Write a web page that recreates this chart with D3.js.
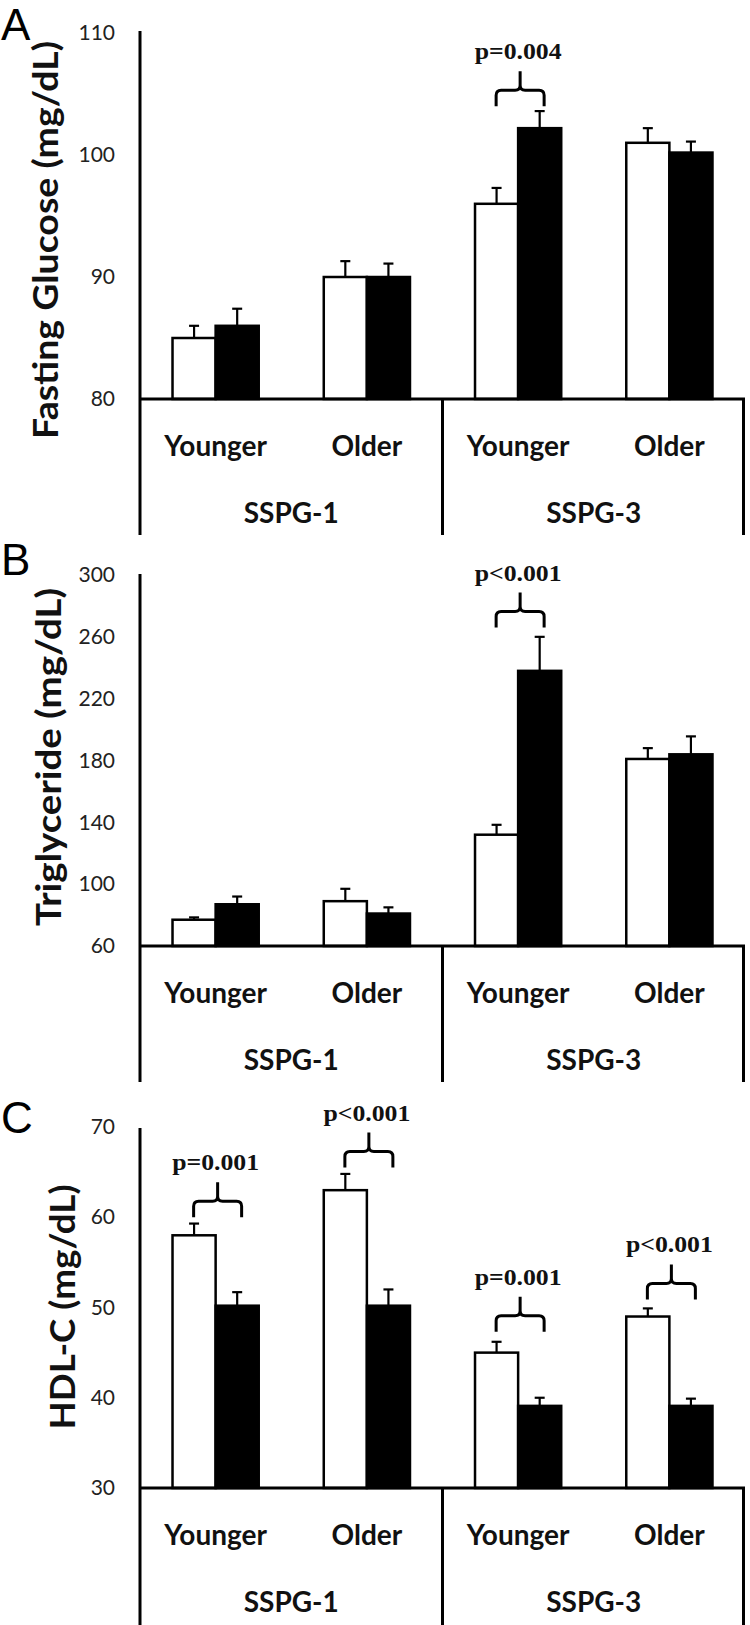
<!DOCTYPE html>
<html><head><meta charset="utf-8">
<script src="https://cdn.jsdelivr.net/npm/d3@7"></script>
<style>body{margin:0;background:#fff} svg{display:block}</style>
</head><body>
<script>
// ---------- data ----------
const groups = ["SSPG-1 Younger", "SSPG-1 Older", "SSPG-3 Younger", "SSPG-3 Older"];
const ageLabels = ["Younger", "Older", "Younger", "Older"];
const sspgLabels = ["SSPG-1", "SSPG-3"];
const seriesNames = ["open", "filled"];

const glucoseTicks = [80, 90, 100, 110];
const glucoseOpen = [85, 90, 96, 101];
const glucoseOpenErr = [1.0, 1.3, 1.3, 1.2];
const glucoseFilled = [86, 90, 102.2, 100.2];
const glucoseFilledErr = [1.4, 1.1, 1.4, 0.9];
const glucoseP = [{group: 2, at: 104.0, label: "p=0.004"}];

const tgTicks = [60, 100, 140, 180, 220, 260, 300];
const tgOpen = [77, 89, 132, 181];
const tgOpenErr = [1.5, 8, 6.4, 7];
const tgFilled = [87, 81, 238, 184];
const tgFilledErr = [5, 4, 22, 11.6];
const tgP = [{group: 2, at: 266, label: "p<0.001"}];

const hdlTicks = [30, 40, 50, 60, 70];
const hdlOpen = [58, 63, 45, 49];
const hdlOpenErr = [1.3, 1.8, 1.2, 0.9];
const hdlFilled = [50.2, 50.2, 39.1, 39.1];
const hdlFilledErr = [1.5, 1.8, 0.9, 0.8];
const hdlP = [
  {group: 0, at: 60.0, label: "p=0.001"},
  {group: 1, at: 65.5, label: "p<0.001"},
  {group: 2, at: 47.3, label: "p=0.001"},
  {group: 3, at: 50.9, label: "p<0.001"}
];

// ---------- layout ----------
const W = 750, H = 1625;
const xLeft = 140, xRight = 745;
const svg = d3.select("body").append("svg").attr("width", W).attr("height", H);

const x0 = d3.scaleBand().domain(groups).range([xLeft, xRight]).paddingInner(0.43).paddingOuter(0.215);
const x1 = d3.scaleBand().domain(seriesNames).range([0, x0.bandwidth()]);

const panels = [
  {letter: "A", title: "Fasting Glucose (mg/dL)", ticks: glucoseTicks,
   open: glucoseOpen, openErr: glucoseOpenErr, filled: glucoseFilled, filledErr: glucoseFilledErr, p: glucoseP,
   top: 31, maxPx: 33, base: 399, bottom: 535, letterY: 40, titleX: 58, titleY: 240, titleLen: 398},
  {letter: "B", title: "Triglyceride (mg/dL)", ticks: tgTicks,
   open: tgOpen, openErr: tgOpenErr, filled: tgFilled, filledErr: tgFilledErr, p: tgP,
   top: 574, maxPx: 575, base: 946, bottom: 1082, letterY: 575, titleX: 61, titleY: 757, titleLen: 338},
  {letter: "C", title: "HDL-C (mg/dL)", ticks: hdlTicks,
   open: hdlOpen, openErr: hdlOpenErr, filled: hdlFilled, filledErr: hdlFilledErr, p: hdlP,
   top: 1128, maxPx: 1127, base: 1488, bottom: 1625, letterY: 1133, titleX: 75, titleY: 1307, titleLen: 245}
];

const sansBold = "Lato, 'Open Sans', sans-serif";

panels.forEach(P => {
  const g = svg.append("g");
  const y = d3.scaleLinear().domain([P.ticks[0], P.ticks[P.ticks.length - 1]]).range([P.base, P.maxPx]);

  // panel letter
  g.append("text").attr("x", 1).attr("y", P.letterY)
    .attr("font-family", "'Liberation Sans', Arial, sans-serif").attr("font-size", 44)
    .attr("fill", "#000").text(P.letter);

  // y axis title
  g.append("text")
    .attr("transform", `translate(${P.titleX},${P.titleY}) rotate(-90)`)
    .attr("text-anchor", "middle")
    .attr("font-family", sansBold).attr("font-weight", 700).attr("font-size", 34)
    .attr("textLength", P.titleLen).attr("lengthAdjust", "spacingAndGlyphs")
    .attr("fill", "#111").text(P.title);

  // y axis ticks
  const ax = g.append("g").attr("transform", `translate(${xLeft},0)`)
    .call(d3.axisLeft(y).tickValues(P.ticks).tickSize(0).tickPadding(25).tickFormat(d3.format("d")));
  ax.select(".domain").remove();
  ax.selectAll("text").attr("font-family", "Lato, sans-serif").attr("font-size", 21).attr("fill", "#222");

  // bars
  groups.forEach((grp, i) => {
    const vals = [[P.open[i], P.openErr[i], "#fff"], [P.filled[i], P.filledErr[i], "#000"]];
    vals.forEach(([v, e, fill], s) => {
      const bx = x0(grp) + x1(seriesNames[s]);
      const bw = x1.bandwidth();
      const cx = bx + bw / 2;
      g.append("line").attr("x1", cx).attr("x2", cx).attr("y1", y(v)).attr("y2", y(v + e))
        .attr("stroke", "#000").attr("stroke-width", 2.2);
      g.append("line").attr("x1", cx - 5).attr("x2", cx + 5).attr("y1", y(v + e)).attr("y2", y(v + e))
        .attr("stroke", "#000").attr("stroke-width", 2.2);
      g.append("rect").attr("x", bx).attr("y", y(v)).attr("width", bw).attr("height", P.base - y(v))
        .attr("fill", fill).attr("stroke", "#000").attr("stroke-width", 2.5);
    });
  });

  // frame lines
  const mid = (x0(groups[1]) + x0.bandwidth() + x0(groups[2])) / 2;
  const ln = (xa, ya, xb, yb) => g.append("line").attr("x1", xa).attr("y1", ya).attr("x2", xb).attr("y2", yb)
    .attr("stroke", "#000").attr("stroke-width", 3);
  ln(xLeft, P.top, xLeft, P.bottom);
  ln(xLeft, P.base, xRight, P.base);
  ln(mid, P.base, mid, P.bottom);
  ln(xRight - 1.5, P.base, xRight - 1.5, P.bottom);

  // category labels
  groups.forEach((grp, i) => {
    g.append("text").attr("x", x0(grp) + x0.bandwidth() / 2).attr("y", P.base + 57)
      .attr("text-anchor", "middle").attr("font-family", sansBold).attr("font-weight", 700)
      .attr("font-size", 28).attr("fill", "#111").text(ageLabels[i]);
  });
  sspgLabels.forEach((lab, j) => {
    const cx = j === 0 ? (xLeft + mid) / 2 : (mid + xRight) / 2;
    g.append("text").attr("x", cx).attr("y", P.base + 124)
      .attr("text-anchor", "middle").attr("font-family", sansBold).attr("font-weight", 700)
      .attr("font-size", 28).attr("fill", "#111").text(lab);
  });

  // significance braces
  P.p.forEach(b => {
    const cx = x0(groups[b.group]) + x0.bandwidth() / 2 + 2;
    const half = 24;
    const yb = y(b.at), yh = yb - 16, yt = yh - 19, r = 5;
    const xa = cx - half, xb = cx + half;
    const path = `M${xa},${yb} L${xa},${yh + r} Q${xa},${yh} ${xa + r},${yh} L${cx - r},${yh} Q${cx},${yh} ${cx},${yh - r} L${cx},${yt}` +
                 ` M${cx},${yh - r} Q${cx},${yh} ${cx + r},${yh} L${xb - r},${yh} Q${xb},${yh} ${xb},${yh + r} L${xb},${yb}`;
    g.append("path").attr("d", path).attr("fill", "none").attr("stroke", "#000").attr("stroke-width", 3);
    g.append("text").attr("x", cx - 2).attr("y", yt - 12).attr("text-anchor", "middle")
      .attr("font-family", "'Liberation Serif', 'Times New Roman', serif").attr("font-weight", 700)
      .attr("font-size", 24).attr("textLength", 87).attr("lengthAdjust", "spacingAndGlyphs")
      .attr("fill", "#111").text(b.label);
  });
});
</script>
</body></html>
